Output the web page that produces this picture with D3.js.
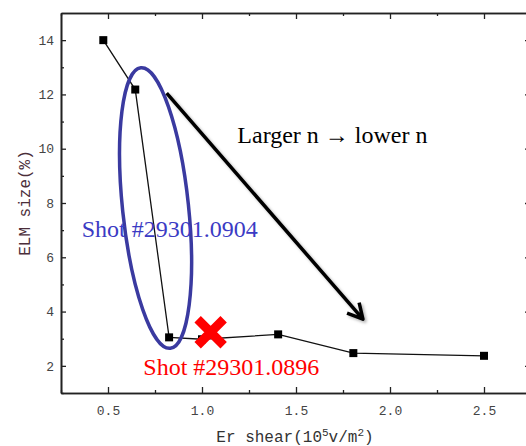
<!DOCTYPE html>
<html>
<head>
<meta charset="utf-8">
<script src="https://cdn.jsdelivr.net/npm/d3@7"></script>
<style>
  body { margin: 0; background: #fff; }
  svg { display: block; }
</style>
</head>
<body>
<div id="chart"></div>
<script>
// data
var erShear = [0.475, 0.645, 0.825, 1.0, 1.405, 1.805, 2.5];
var elmSize = [14.0, 12.18, 3.05, 2.98, 3.16, 2.47, 2.37];

var xTicks = [0.5, 1.0, 1.5, 2.0, 2.5];
var xMinor = [0.25, 0.75, 1.25, 1.75, 2.25];
var yTicks = [2, 4, 6, 8, 10, 12, 14];
var yMinor = [1, 3, 5, 7, 9, 11, 13];

// annotation anchors, in data units
var bigArrow = [[0.812, 12.05], [1.856, 3.72]];
var arrowText = [1.188, 10.2];
var ellipseCenter = [0.753, 7.815];
var blueText = [0.36, 6.76];
var redText = [0.688, 1.66];
var crossAt = [1.046, 3.24];

var W = 526, H = 446;
// plot box (note: "top" is a reserved window prop, so use pad*)
var padL = 61, padT = 13, padR = 531, padB = 393;

var svg = d3.select("#chart").append("svg")
  .attr("width", W)
  .attr("height", H);

var defs = svg.append("defs");
defs.append("filter")
  .attr("id", "shadow")
  .attr("x", "-20%").attr("y", "-20%")
  .attr("width", "140%").attr("height", "140%")
  .append("feDropShadow")
  .attr("dx", 2).attr("dy", 2)
  .attr("stdDeviation", 1.5)
  .attr("flood-color", "#000")
  .attr("flood-opacity", 0.3);

var x = d3.scaleLinear().domain([0.25, 2.75]).range([padL, padR]);
var y = d3.scaleLinear().domain([1, 15]).range([padB, padT]);

var tickFont = "'Liberation Mono', monospace";

function styleAxis(g) {
  g.select(".domain").attr("stroke", "#222").attr("stroke-width", 1.6);
  g.selectAll(".tick line").attr("stroke", "#222").attr("stroke-width", 1.3);
  g.selectAll(".tick text")
    .attr("fill", "#444")
    .style("font-family", tickFont)
    .style("font-size", "13px");
}

// bottom
svg.append("g")
  .attr("transform", "translate(0," + padB + ")")
  .call(d3.axisBottom(x).tickValues(xMinor).tickSize(-3).tickSizeOuter(0).tickFormat(""))
  .call(styleAxis);
svg.append("g")
  .attr("transform", "translate(0," + padB + ")")
  .call(d3.axisBottom(x).tickValues(xTicks).tickSize(-6).tickSizeOuter(0)
    .tickPadding(13).tickFormat(d3.format(".1f")))
  .call(styleAxis);

// top
svg.append("g")
  .attr("transform", "translate(0," + padT + ")")
  .call(d3.axisTop(x).tickValues(xMinor).tickSize(-3).tickSizeOuter(0).tickFormat(""))
  .call(styleAxis);
svg.append("g")
  .attr("transform", "translate(0," + padT + ")")
  .call(d3.axisTop(x).tickValues(xTicks).tickSize(-6).tickSizeOuter(0).tickFormat(""))
  .call(styleAxis);

// left
svg.append("g")
  .attr("transform", "translate(" + padL + ",0)")
  .call(d3.axisLeft(y).tickValues(yMinor).tickSize(-3).tickSizeOuter(0).tickFormat(""))
  .call(styleAxis);
svg.append("g")
  .attr("transform", "translate(" + padL + ",0)")
  .call(d3.axisLeft(y).tickValues(yTicks).tickSize(-5).tickSizeOuter(0).tickPadding(7))
  .call(styleAxis);

// right
svg.append("g")
  .attr("transform", "translate(" + padR + ",0)")
  .call(d3.axisRight(y).tickValues(yTicks).tickSize(-6).tickSizeOuter(0).tickFormat(""))
  .call(styleAxis);

// axis titles
svg.append("text")
  .attr("transform", "translate(30," + ((padT + padB) / 2) + ") rotate(-90)")
  .attr("text-anchor", "middle")
  .attr("fill", "#4b2e3a")
  .style("font-family", tickFont)
  .style("font-size", "16px")
  .text("ELM size(%)");

var xt = svg.append("text")
  .attr("x", 295)
  .attr("y", 442)
  .attr("text-anchor", "middle")
  .attr("fill", "#333")
  .style("font-family", tickFont)
  .style("font-size", "16px");
xt.append("tspan").text("Er shear(10");
xt.append("tspan").attr("dy", -6).style("font-size", "11px").text("5");
xt.append("tspan").attr("dy", 6).text("v/m");
xt.append("tspan").attr("dy", -6).style("font-size", "11px").text("2");
xt.append("tspan").attr("dy", 6).text(")");

// data line + markers
var pts = erShear.map(function (d, i) { return [d, elmSize[i]]; });

svg.append("path")
  .datum(pts)
  .attr("fill", "none")
  .attr("stroke", "#111")
  .attr("stroke-width", 1.3)
  .attr("d", d3.line()
    .x(function (d) { return x(d[0]); })
    .y(function (d) { return y(d[1]); }));

svg.append("g")
  .selectAll("rect")
  .data(pts)
  .enter()
  .append("rect")
  .attr("x", function (d) { return x(d[0]) - 4; })
  .attr("y", function (d) { return y(d[1]) - 4; })
  .attr("width", 8)
  .attr("height", 8)
  .attr("fill", "#000");

// blue ellipse
svg.append("ellipse")
  .attr("transform", "translate(" + x(ellipseCenter[0]) + "," + y(ellipseCenter[1]) + ") rotate(-6)")
  .attr("rx", 33)
  .attr("ry", 141)
  .attr("fill", "none")
  .attr("stroke", "#3a3aa0")
  .attr("stroke-width", 3.5);

// big arrow
var ax1 = x(bigArrow[0][0]), ay1 = y(bigArrow[0][1]);
var ax2 = x(bigArrow[1][0]), ay2 = y(bigArrow[1][1]);
var ang = Math.atan2(ay2 - ay1, ax2 - ax1) + Math.PI;
var headLen = 17, spread = 28 * Math.PI / 180;
var arrowPath = "M" + ax1 + "," + ay1 + "L" + ax2 + "," + ay2 +
  "M" + (ax2 + headLen * Math.cos(ang - spread)) + "," + (ay2 + headLen * Math.sin(ang - spread)) +
  "L" + ax2 + "," + ay2 +
  "L" + (ax2 + headLen * Math.cos(ang + spread)) + "," + (ay2 + headLen * Math.sin(ang + spread));

svg.append("path")
  .attr("d", arrowPath)
  .attr("fill", "none")
  .attr("stroke", "#000")
  .attr("stroke-width", 3.5)
  .attr("stroke-linejoin", "round")
  .attr("filter", "url(#shadow)");

svg.append("text")
  .attr("x", x(arrowText[0]))
  .attr("y", y(arrowText[1]))
  .attr("fill", "#000")
  .style("font-family", "'Liberation Serif', serif")
  .style("font-size", "24px")
  .text("Larger n \u2192 lower n");

// red cross
var cx = x(crossAt[0]), cy = y(crossAt[1]);
svg.append("path")
  .attr("d", "M" + (cx - 13) + "," + (cy - 13) + "L" + (cx + 13) + "," + (cy + 13) +
    "M" + (cx + 13) + "," + (cy - 13) + "L" + (cx - 13) + "," + (cy + 13))
  .attr("stroke", "#ff0000")
  .attr("stroke-width", 9);

// shot labels
svg.append("text")
  .attr("x", x(blueText[0]))
  .attr("y", y(blueText[1]))
  .attr("fill", "#3b3bc4")
  .style("font-family", "'Liberation Serif', serif")
  .style("font-size", "24px")
  .text("Shot #29301.0904");

svg.append("text")
  .attr("x", x(redText[0]))
  .attr("y", y(redText[1]))
  .attr("fill", "#ff0000")
  .style("font-family", "'Liberation Serif', serif")
  .style("font-size", "24px")
  .text("Shot #29301.0896");
</script>
</body>
</html>
